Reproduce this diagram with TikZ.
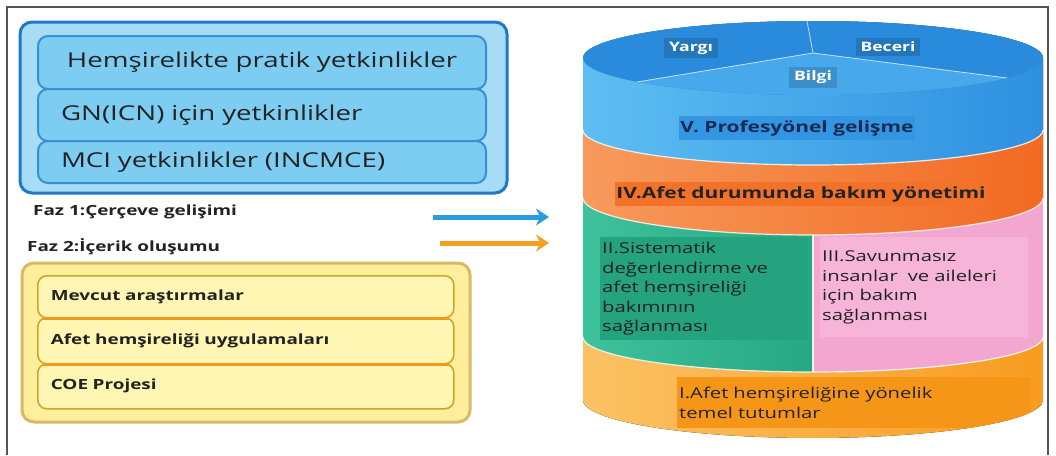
\documentclass[tikz,border=0pt]{standalone}
\usepackage{fontspec}
\setmainfont{Open Sans}[FakeStretch=1.35]
\usetikzlibrary{arrows.meta,positioning}

\definecolor{frameline}{HTML}{555555}
\definecolor{outerblue}{HTML}{A6DCF6}
\definecolor{outerblueline}{HTML}{1F78C8}
\definecolor{cellblue}{HTML}{7DCDF2}
\definecolor{cellblueline}{HTML}{3A8ED2}
\definecolor{outeryellow}{HTML}{FFEE9C}
\definecolor{outeryellowline}{HTML}{D9B866}
\definecolor{cellyellow}{HTML}{FFF6B4}
\definecolor{cellyellowline}{HTML}{CFA52A}
\definecolor{sepyellow}{HTML}{F29A1E}
\definecolor{arrowblue}{HTML}{2A9DE0}
\definecolor{arroworange}{HTML}{F5A023}
\definecolor{topdark}{HTML}{2A8BDC}
\definecolor{topbilgi}{HTML}{47A8EC}
\definecolor{bandblueL}{HTML}{5EBEF2}
\definecolor{bandblueR}{HTML}{2E90E0}
\definecolor{vhilite}{HTML}{3296E2}
\definecolor{vtext}{HTML}{1B2A55}
\definecolor{bandredL}{HTML}{F79A5C}
\definecolor{bandredR}{HTML}{F26A22}
\definecolor{ivhilite}{HTML}{F2722A}
\definecolor{bandgreenL}{HTML}{3EC29C}
\definecolor{bandgreenR}{HTML}{26A882}
\definecolor{greenhilite}{HTML}{25A37E}
\definecolor{bandpink}{HTML}{F2A6D0}
\definecolor{pinkhilite}{HTML}{F5B4D8}
\definecolor{bandlowL}{HTML}{FBC264}
\definecolor{bandlowR}{HTML}{F89C20}
\definecolor{lowhilite}{HTML}{F69618}
\definecolor{darktext}{HTML}{222222}

\tikzset{
  bluecell/.style={draw=cellblueline, line width=2pt, fill=cellblue, rounded corners=10pt,
    anchor=north west, minimum width=448pt, text width=402pt, inner xsep=23pt,
    align=left, text=darktext, font=\fontsize{20.5}{24}\selectfont},
  yellowcell/.style={draw=cellyellowline, line width=1.6pt, fill=cellyellow, rounded corners=9pt,
    anchor=north west, minimum width=416pt, text width=390pt, inner xsep=13pt,
    align=left, text=darktext, font=\bfseries\fontsize{14}{17}\selectfont},
  fazlabel/.style={anchor=west, inner sep=0pt, text=darktext, font=\bfseries\fontsize{14}{17}\selectfont},
  phasearrow/.style={line width=5pt, -{Stealth[length=13pt,width=17pt]}},
  toplabel/.style={fill=topdark!85!black, text=white, inner xsep=5pt, inner ysep=4pt,
    font=\bfseries\fontsize{13}{15}\selectfont},
  bandtitle/.style={inner xsep=1pt, inner ysep=4pt, font=\bfseries\fontsize{15.5}{18}\selectfont},
  bandtext/.style={anchor=north west, inner xsep=2pt, inner ysep=4pt, align=left, text=darktext,
    font=\fontsize{15}{19.5}\selectfont},
  bandsep/.style={white, line width=1.2pt, opacity=0.85}
}

\begin{document}
\begin{tikzpicture}[x=1pt, y=-1pt]
\useasboundingbox (0,0) rectangle (1056,455);
\draw[frameline, line width=1.5pt] (7,455) -- (7,7) -- (1048,7) -- (1048,455);

\draw[outerblueline, line width=3pt, fill=outerblue, rounded corners=12pt] (20,22) rectangle (507,193);
\node[bluecell, minimum height=53pt, align=center] (practice) at (37,35) {Hemşirelikte pratik yetkinlikler};
\node[bluecell, minimum height=52pt] (icn) at (37,88) {GN(ICN) için yetkinlikler};
\node[bluecell, minimum height=42pt] (mci) at (37,140) {MCI yetkinlikler (INCMCE)};

\node[fazlabel] (faz1) at (33,212) {Faz 1:Çerçeve gelişimi};
\node[fazlabel] (faz2) at (27,247) {Faz 2:İçerik oluşumu};

\draw[outeryellowline, line width=3pt, fill=outeryellow, rounded corners=12pt] (22,263) rectangle (470,422);
\node[yellowcell, minimum height=42pt] (research) at (37,275) {Mevcut araştırmalar};
\node[yellowcell, minimum height=46pt] (practices) at (37,317) {Afet hemşireliği uygulamaları};
\node[yellowcell, minimum height=45pt] (coe) at (37,363) {COE Projesi};
\draw[sepyellow, line width=3pt] (research.south west) ++(6,0) -- ([xshift=-6pt]research.south east);
\draw[sepyellow, line width=3pt] (practices.south west) ++(6,0) -- ([xshift=-6pt]practices.south east);

\coordinate (frameFrom) at (433,217);
\coordinate (frameTo) at (549,217);
\coordinate (contentFrom) at (440,243);
\coordinate (contentTo) at (549,243);
\draw[phasearrow, arrowblue] (frameFrom) -- (frameTo);
\draw[phasearrow, arroworange] (contentFrom) -- (contentTo);

\begin{scope}
\clip (583,337) -- (583,400)
  -- plot[domain=180:0, samples=60] ({813+230*cos(\x)},{400+38*sin(\x)}) -- (1043,337) -- cycle;
\fill[left color=bandlowL, right color=bandlowR] (583,337) rectangle (1043,440);
\node[bandtext, fill=lowhilite, text width=350pt, minimum height=51pt] (attitudes) at (677,377)
  {I.Afet hemşireliğine yönelik\\temel tutumlar};
\end{scope}
\fill[left color=bandgreenL, right color=bandgreenR] (583,198) -- (583,337)
  -- plot[domain=180:90, samples=40] ({813+230*cos(\x)},{337+35*sin(\x)}) -- (813,198) -- cycle;
\fill[bandpink] (813,198)
  -- plot[domain=90:0, samples=40] ({813+230*cos(\x)},{337+35*sin(\x)}) -- (1043,198) -- cycle;
\draw[bandsep] plot[domain=180:0, samples=60] ({813+230*cos(\x)},{337+35*sin(\x)});
\draw[bandsep] (813,372) -- (813,230);
\fill[left color=bandredL, right color=bandredR] (583,130) -- (583,198)
  -- plot[domain=180:0, samples=60] ({813+230*cos(\x)},{198+37*sin(\x)}) -- (1043,130) -- cycle;
\draw[bandsep] plot[domain=180:0, samples=60] ({813+230*cos(\x)},{198+37*sin(\x)});
\fill[left color=bandblueL, right color=bandblueR] (583,58) -- (583,130)
  -- plot[domain=180:0, samples=60] ({813+230*cos(\x)},{130+35*sin(\x)}) -- (1043,58)
  -- plot[domain=360:180, samples=60] ({813+230*cos(\x)},{58+37*sin(\x)}) -- cycle;
\draw[bandsep] plot[domain=180:0, samples=60] ({813+230*cos(\x)},{130+35*sin(\x)});
\fill[topdark] (813,58) ellipse [x radius=230, y radius=37];
\fill[topbilgi] (813,53) -- plot[domain=32.5:139.9, samples=40] ({813+230*cos(\x)},{58+37*sin(\x)}) -- cycle;
\draw[white, line width=0.8pt, opacity=0.7] (807,21) -- (813,53) -- (637,82) (813,53) -- (1007,78);

\node[toplabel] (yargi) at (691,48) {Yargı};
\node[toplabel] (beceri) at (888,47) {Beceri};
\node[toplabel, fill=topbilgi!85!black] (bilgi) at (813,77) {Bilgi};

\node[bandtitle, fill=vhilite, text=vtext, minimum width=235pt] (profession) at (797,128) {V. Profesyönel gelişme};
\node[bandtitle, fill=ivhilite, text=darktext, minimum width=353pt] (care) at (801,194) {IV.Afet durumunda bakım yönetimi};
\node[bandtext, fill=greenhilite, text width=204pt, minimum height=103pt] (assess) at (600,237)
  {II.Sistematik\\değerlendirme ve\\afet hemşireliği\\bakımının\\sağlanması};
\node[bandtext, fill=pinkhilite, text width=204pt, minimum height=100pt] (vulnerable) at (820,237)
  {III.Savunmasız\\insanlar \ ve aileleri\\için bakım\\sağlanması};
\end{tikzpicture}
\end{document}
